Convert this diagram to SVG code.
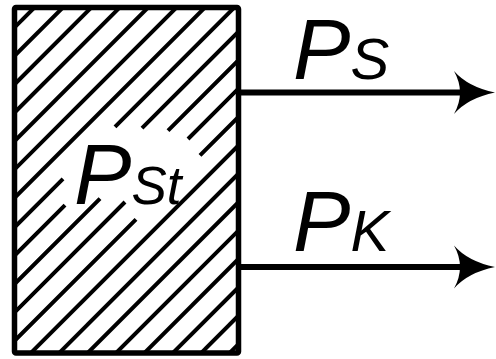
<svg xmlns="http://www.w3.org/2000/svg" width="496" height="359" viewBox="0 0 496 359">
  <style>
    .lbl { font-family: "Liberation Sans", Arial, sans-serif; font-style: italic; fill: #000; }
    .hatch { stroke: #000; stroke-width: 4; fill: none; }
    .box { fill: none; stroke: #000; stroke-width: 5.5; stroke-linejoin: round; }
    .shaft { stroke: #000; stroke-width: 6; fill: none; }
    .head { fill: #000; stroke: none; }
  </style>
  <defs>
    <clipPath id="boxclip">
      <rect x="14.5" y="7.5" width="224" height="345.5"/>
    </clipPath>
  </defs>

  <g id="node-storage">
    <rect x="0" y="0" width="496" height="359" fill="#fff"/>
    <g clip-path="url(#boxclip)" class="hatch">
      <path d="M-318,360 L42,0"/>
      <path d="M-289.6,360 L70.4,0"/>
      <path d="M-261.2,360 L98.8,0"/>
      <path d="M-232.8,360 L127.2,0"/>
      <path d="M-204.4,360 L155.6,0"/>
      <path d="M-176,360 L184,0"/>
      <path d="M-147.6,360 L212.4,0"/>
      <path d="M-118.2,360 L63,178.8 M115,126.8 L241.8,0"/>
      <path d="M-89.8,360 L65,205.2 M142,128.2 L270.2,0"/>
      <path d="M-61.4,360 L100,198.6 M168,130.6 L298.6,0"/>
      <path d="M-33,360 L125,202 M188,139 L327,0"/>
      <path d="M-4.6,360 L136,219.4 M200,155.4 L355.4,0"/>
      <path d="M23.8,360 L383.8,0"/>
      <path d="M52.2,360 L412.2,0"/>
      <path d="M80.6,360 L440.6,0"/>
      <path d="M109,360 L469,0"/>
      <path d="M137.4,360 L497.4,0"/>
      <path d="M165.8,360 L525.8,0"/>
      <path d="M194.2,360 L554.2,0"/>
      <path d="M222.6,360 L582.6,0"/>
    </g>
    <rect class="box" x="14.5" y="7.5" width="224" height="345.5" rx="1.5"/>
    <text class="lbl" x="74" y="204" font-size="86">P<tspan font-size="53">St</tspan></text>
  </g>

  <g id="connectors">
    <g id="arrow-ps">
      <line class="shaft" x1="238" y1="92.5" x2="462" y2="92.5"/>
      <path class="head" d="M495,92.5 Q468,87 454,71 Q466,92.5 454,114 Q468,98 495,92.5 Z"/>
    </g>
    <g id="arrow-pk">
      <line class="shaft" x1="238" y1="267" x2="462" y2="267"/>
      <path class="head" d="M495,267 Q468,261.5 454,245.5 Q466,267 454,288.5 Q468,272.5 495,267 Z"/>
    </g>
  </g>

  <g id="label-ps">
    <text class="lbl" x="293" y="79" font-size="86">P<tspan font-size="58">S</tspan></text>
  </g>
  <g id="label-pk">
    <text class="lbl" x="293" y="251" font-size="86">P<tspan font-size="58">K</tspan></text>
  </g>
</svg>
